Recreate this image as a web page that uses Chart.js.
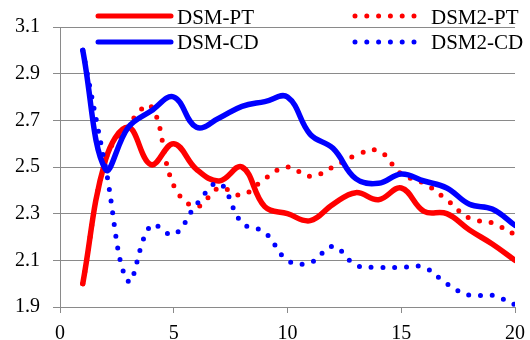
<!DOCTYPE html>
<html>
<head>
<meta charset="utf-8">
<script src="https://cdn.jsdelivr.net/npm/chart.js@4"></script>
<style>
  body { margin: 0; background: #fff; }
  #wrap { width: 530px; height: 340px; }
</style>
</head>
<body>
<div id="wrap"><canvas id="chart" width="530" height="340"></canvas></div>
<script>
// data
const xValues = [1, 2, 3, 4, 5, 6, 7, 8, 9, 10, 11, 12, 13, 14, 15, 16, 17, 18, 19, 20];
const dsmPT  = [2.00, 2.53, 2.67, 2.51, 2.60, 2.49, 2.44, 2.50, 2.33, 2.30, 2.27, 2.34, 2.39, 2.36, 2.41, 2.31, 2.30, 2.23, 2.17, 2.10];
const dsm2PT = [2.00, 2.53, 2.68, 2.76, 2.42, 2.33, 2.41, 2.38, 2.45, 2.50, 2.46, 2.50, 2.55, 2.57, 2.47, 2.43, 2.36, 2.28, 2.26, 2.21];
const dsmCD  = [3.00, 2.49, 2.67, 2.74, 2.80, 2.67, 2.71, 2.76, 2.78, 2.80, 2.64, 2.58, 2.45, 2.43, 2.47, 2.44, 2.41, 2.34, 2.32, 2.25];
const dsm2CD = [3.00, 2.50, 2.01, 2.25, 2.21, 2.34, 2.43, 2.26, 2.22, 2.10, 2.09, 2.16, 2.08, 2.07, 2.07, 2.07, 2.00, 1.95, 1.95, 1.91];
const seriesNames = ['DSM-PT', 'DSM2-PT', 'DSM-CD', 'DSM2-CD'];
const yTicks = [1.9, 2.1, 2.3, 2.5, 2.7, 2.9, 3.1];
const xTicks = [0, 5, 10, 15, 20];

const RED = '#ff0000';
const BLUE = '#0000ff';
const GRID = '#8a8a8a';
const DOTS = [0, 11.8];

const toPoints = arr => arr.map((v, i) => ({ x: xValues[i], y: v }));

function series(name, values, color, dotted, order) {
  return {
    label: name,
    data: toPoints(values),
    borderColor: color,
    backgroundColor: color,
    borderWidth: dotted ? 5 : 5.5,
    borderDash: dotted ? DOTS : [],
    borderCapStyle: 'round',
    borderJoinStyle: 'round',
    pointRadius: 0,
    tension: 0.4,
    fill: false,
    order: order
  };
}

// legend drawn by hand, two columns like the original
const legendPlugin = {
  id: 'twoColLegend',
  afterDraw(chart) {
    const ctx = chart.ctx;
    const items = [
      { name: seriesNames[0], color: RED,  dotted: false, x0: 98,  x1: 171, y: 16, tx: 177, ty: 24 },
      { name: seriesNames[1], color: RED,  dotted: true,  x0: 355, x1: 416, y: 16, tx: 431, ty: 24 },
      { name: seriesNames[2], color: BLUE, dotted: false, x0: 98,  x1: 171, y: 42, tx: 177, ty: 49 },
      { name: seriesNames[3], color: BLUE, dotted: true,  x0: 355, x1: 416, y: 42, tx: 431, ty: 49 }
    ];
    ctx.save();
    items.forEach(it => {
      ctx.beginPath();
      ctx.strokeStyle = it.color;
      ctx.lineWidth = 5;
      ctx.lineCap = 'round';
      ctx.setLineDash(it.dotted ? DOTS : []);
      ctx.moveTo(it.x0, it.y);
      ctx.lineTo(it.x1, it.y);
      ctx.stroke();
      ctx.setLineDash([]);
      ctx.fillStyle = '#000';
      ctx.font = "21px 'Liberation Serif', 'Times New Roman', serif";
      ctx.textBaseline = 'alphabetic';
      ctx.textAlign = 'left';
      ctx.fillText(it.name, it.tx, it.ty);
    });
    ctx.restore();
  }
};

Chart.defaults.font.family = "'Liberation Serif', 'Times New Roman', serif";
Chart.defaults.font.size = 20;
Chart.defaults.color = '#000';

new Chart(document.getElementById('chart'), {
  type: 'line',
  data: {
    datasets: [
      series(seriesNames[0], dsmPT, RED, false, 4),
      series(seriesNames[1], dsm2PT, RED, true, 3),
      series(seriesNames[2], dsmCD, BLUE, false, 2),
      series(seriesNames[3], dsm2CD, BLUE, true, 1)
    ]
  },
  options: {
    responsive: false,
    animation: false,
    layout: { padding: { top: 27, right: 15, left: 0, bottom: 0 } },
    plugins: {
      legend: { display: false },
      tooltip: { enabled: false }
    },
    scales: {
      x: {
        type: 'linear',
        min: 0,
        max: 20,
        afterBuildTicks: s => { s.ticks = xTicks.map(v => ({ value: v })); },
        afterFit: s => {
          s.height = 33;
          s.paddingLeft = 0;
          s.paddingRight = 0;
        },
        grid: { drawOnChartArea: false, drawTicks: true, tickLength: 6, color: GRID },
        border: { display: true, color: GRID, width: 1 },
        ticks: { padding: 9, maxRotation: 0, callback: v => String(v) }
      },
      y: {
        min: 1.9,
        max: 3.1,
        afterBuildTicks: s => { s.ticks = yTicks.map(v => ({ value: v })); },
        afterFit: s => { s.width = 60; },
        grid: { color: GRID, tickLength: 7, lineWidth: 1 },
        border: { display: true, color: GRID, width: 1 },
        ticks: { padding: 13, callback: v => Number(v).toFixed(1) }
      }
    }
  },
  plugins: [legendPlugin]
});
</script>
</body>
</html>
